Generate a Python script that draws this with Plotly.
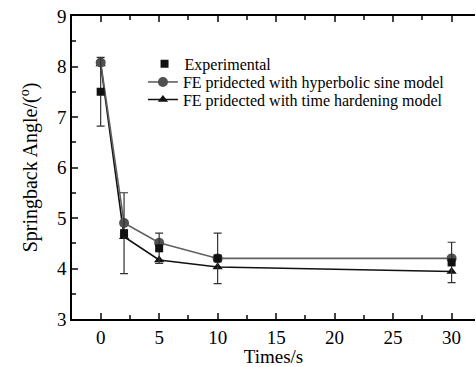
import plotly.graph_objects as go

times = [0, 2, 5, 10, 30]
experimental = [7.5, 4.7, 4.4, 4.2, 4.12]
exp_err = [0.68, 0.8, 0.3, 0.5, 0.4]
hyperbolic = [8.08, 4.9, 4.51, 4.2, 4.2]
time_hardening = [8.05, 4.63, 4.17, 4.03, 3.94]

FONT = "Liberation Serif"

fig = go.Figure()
fig.add_trace(go.Scatter(
    x=times, y=time_hardening, mode="lines+markers",
    name="FE pridected with time hardening model",
    line=dict(color="#111111", width=1.6),
    marker=dict(symbol="triangle-up", size=9, color="#111111"),
    legend="legend3",
))
fig.add_trace(go.Scatter(
    x=times, y=hyperbolic, mode="lines+markers",
    name="FE pridected with hyperbolic sine model",
    line=dict(color="#606060", width=1.6),
    marker=dict(symbol="circle", size=10, color="#505050"),
    legend="legend2",
))
fig.add_trace(go.Scatter(
    x=times, y=experimental, mode="markers",
    name="Experimental",
    marker=dict(symbol="square", size=8, color="#111111"),
    error_y=dict(type="data", array=exp_err, visible=True, color="#333333",
                 thickness=1.2, width=4),
    legend="legend",
))

leg_common = dict(xanchor="left", yanchor="middle", bgcolor="rgba(0,0,0,0)",
                  font=dict(size=16, family=FONT), itemwidth=30,
                  borderwidth=0)

fig.update_layout(
    width=476, height=367,
    margin=dict(l=72, r=1, t=16, b=48),
    paper_bgcolor="white", plot_bgcolor="white",
    font=dict(family=FONT, color="black", size=18),
    showlegend=True,
    legend=dict(x=0.18, y=0.842, **leg_common),
    legend2=dict(x=0.176, y=0.782, **leg_common),
    legend3=dict(x=0.176, y=0.724, **leg_common),
    xaxis=dict(
        range=[-2.45, 32.0], tickmode="array", tickvals=[0, 5, 10, 15, 20, 25, 30],
        ticks="inside", ticklen=6, tickwidth=1.5, showline=True, linewidth=1.5,
        linecolor="black", mirror="ticks", showgrid=False, zeroline=False,
        minor=dict(ticks="inside", ticklen=4, tickwidth=1.5, dtick=2.5, tick0=0),
        title=dict(text="Times/s", font=dict(size=19, family=FONT), standoff=3),
        tickfont=dict(size=19, family=FONT),
    ),
    yaxis=dict(
        range=[3, 9], dtick=1, ticks="inside", ticklen=6, tickwidth=1.5,
        showline=True, linewidth=1.5, linecolor="black", mirror=False,
        showgrid=False, zeroline=False,
        minor=dict(ticks="inside", ticklen=4, tickwidth=1.5, dtick=0.5),
        title=dict(text="Springback Angle/(<sup>o</sup>)", font=dict(size=20, family=FONT), standoff=14),
        tickfont=dict(size=19, family=FONT),
    ),
)

fig.write_html("out.html")
